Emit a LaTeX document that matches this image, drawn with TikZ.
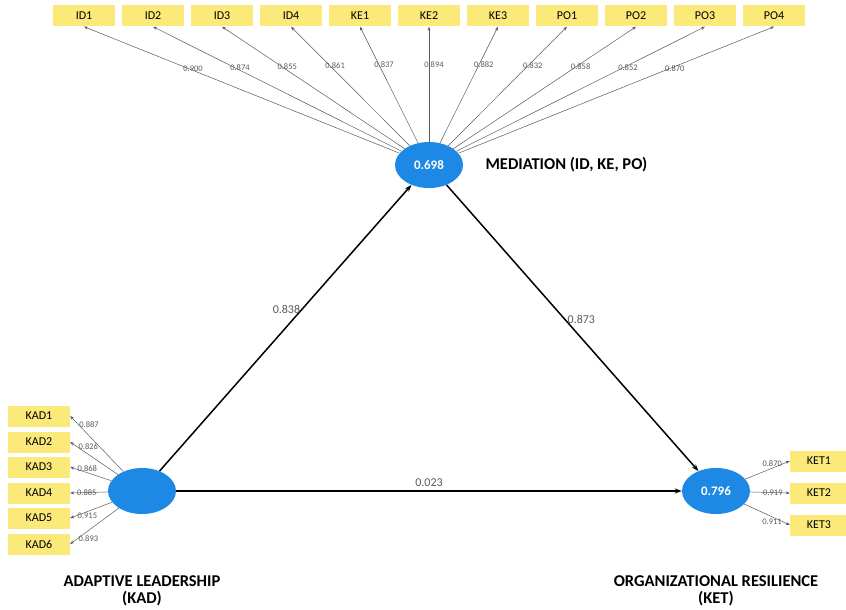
\documentclass[tikz,border=0pt]{standalone}
\usepackage{fontspec}
\setmainfont{Carlito}
\usetikzlibrary{shapes.geometric,arrows.meta}
\definecolor{indy}{RGB}{251,233,122}
\definecolor{lvblue}{RGB}{30,136,229}
\definecolor{lgray}{RGB}{90,90,90}
\tikzset{
  ind/.style={fill=indy, minimum width=62pt, minimum height=21pt, inner sep=0pt, font=\fontsize{12}{14}\selectfont},
  lv/.style={ellipse, fill=lvblue, minimum width=68pt, minimum height=46pt, inner sep=0pt, text=white, font=\bfseries\fontsize{13}{15}\selectfont},
  loadarrow/.style={-{Stealth[length=4pt,width=3pt]}, draw=lgray, line width=0.5pt},
  patharrow/.style={-{Stealth[length=7pt,width=5pt]}, draw=black, line width=1.5pt},
  ldlab/.style={font=\fontsize{8.5}{9}\selectfont, text=lgray, inner sep=1pt},
  pthlab/.style={font=\fontsize{12}{13}\selectfont, text=lgray, inner sep=1pt},
  lvlab/.style={font=\bfseries\fontsize{16.5}{16.5}\selectfont, align=center}
}
\begin{document}
\begin{tikzpicture}[x=1pt,y=-1pt]
\useasboundingbox (0,0) rectangle (846,610);
\fill[white] (0,0) rectangle (846,610);
% latent variables
\node[lv] (med) at (429,165) {0.698};
\node[lv] (kad) at (142,491) {};
\node[lv] (ket) at (716,491) {0.796};
% labels
\node[lvlab, anchor=west] (medlab) at (482,165) {MEDIATION (ID, KE, PO)};
\node[lvlab] (kadlab) at (142,591) {ADAPTIVE LEADERSHIP\\(KAD)};
\node[lvlab] (ketlab) at (716,591) {ORGANIZATIONAL RESILIENCE\\(KET)};
% top indicators
\foreach \n/\x/\l in {ID1/84/0.900, ID2/153/0.874, ID3/222/0.855, ID4/291/0.861, KE1/360/0.837, KE2/429/0.894, KE3/498/0.882, PO1/567/0.832, PO2/636/0.858, PO3/705/0.852, PO4/774/0.870}{
  \node[ind] (\n) at (\x,16) {\n};
  \draw[loadarrow] (med) -- (\n.south) node[ldlab, pos=0.67, anchor=south west, xshift=-6pt, yshift=-4pt] {\l};
}
% KAD indicators
\foreach \n/\y/\l in {KAD1/416/0.887, KAD2/442/0.826, KAD3/467/0.868, KAD4/493/0.885, KAD5/518/0.915, KAD6/544/0.893}{
  \node[ind] (\n) at (39,\y) {\n};
  \draw[loadarrow] (kad) -- (\n.east) node[ldlab, pos=0.85, anchor=west] {\l};
}
% KET indicators
\foreach \n/\y/\l in {KET1/461/0.870, KET2/493/0.919, KET3/525/0.911}{
  \node[ind, minimum width=58pt] (\n) at (819,\y) {\n};
  \draw[loadarrow] (ket) -- (\n.west) node[ldlab, pos=0.85, anchor=east] {\l};
}
% structural paths
\draw[patharrow] (kad) -- (med) node[pthlab, pos=0.565, left=0pt] {0.838};
\draw[patharrow] (med) -- (ket) node[pthlab, pos=0.47, right=1pt] {0.873};
\draw[patharrow] (kad) -- (ket) node[pthlab, midway, above=3pt] {0.023};
\end{tikzpicture}
\end{document}
